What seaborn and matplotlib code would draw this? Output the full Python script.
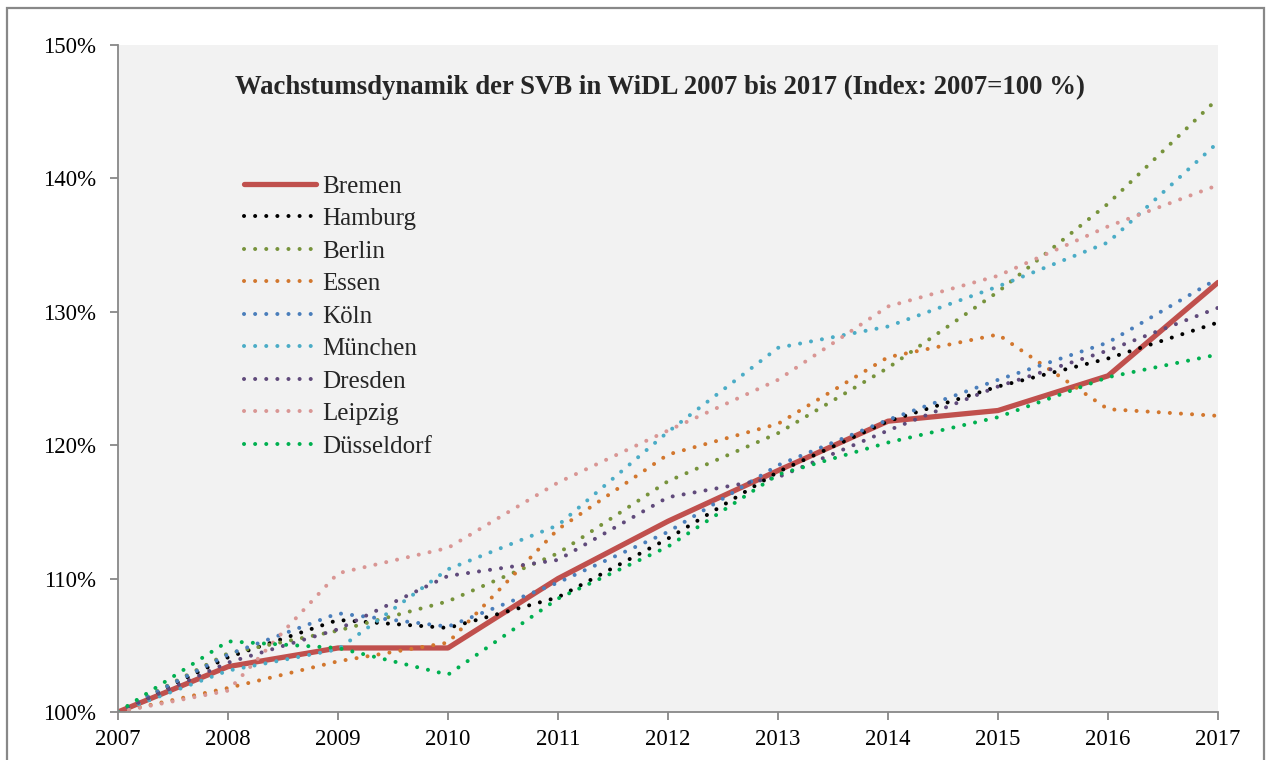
import matplotlib
matplotlib.use("Agg")
import matplotlib.pyplot as plt
import matplotlib.ticker as mticker
from matplotlib.patches import Rectangle
import seaborn as sns
import pandas as pd

# ── Data (Index: 2007 = 100 %) ───────────────────────────────────────────────
YEARS = list(range(2007, 2018))

bremen     = [100, 103.4, 104.8, 104.8, 110.0, 114.3, 118.1, 121.8, 122.6, 125.2, 132.2]
hamburg    = [100, 104.1, 106.9, 106.3, 108.6, 113.0, 118.0, 121.8, 124.4, 126.5, 129.2]
berlin     = [100, 104.4, 106.1, 108.3, 111.9, 117.3, 120.9, 125.8, 131.5, 138.1, 146.0]
essen      = [100, 101.8, 103.8, 105.2, 113.7, 119.3, 121.6, 126.6, 128.3, 122.7, 122.2]
koeln      = [100, 104.3, 107.4, 106.4, 109.7, 113.5, 118.5, 121.9, 124.9, 127.7, 132.5]
muenchen   = [100, 103.1, 104.7, 110.7, 114.0, 121.0, 127.3, 128.9, 131.9, 135.2, 142.7]
dresden    = [100, 103.7, 106.2, 110.2, 111.4, 116.1, 117.6, 121.1, 124.4, 127.1, 130.3]
leipzig    = [100, 101.6, 110.4, 112.3, 117.2, 121.1, 124.9, 130.4, 132.7, 136.4, 139.5]
duesseldorf = [100, 105.3, 104.8, 102.8, 108.5, 112.4, 117.8, 120.2, 122.1, 125.1, 126.8]

CITIES = ["Bremen", "Hamburg", "Berlin", "Essen", "Köln",
          "München", "Dresden", "Leipzig", "Düsseldorf"]
SERIES = [bremen, hamburg, berlin, essen, koeln,
          muenchen, dresden, leipzig, duesseldorf]
COLORS = ["#C0504D", "#000000", "#77933C", "#D2772E", "#4A7EBB",
          "#4BACC6", "#604A7B", "#D99694", "#00B050"]

TITLE = "Wachstumsdynamik der SVB in WiDL 2007 bis 2017 (Index: 2007=100 %)"

# ── Style ─────────────────────────────────────────────────────────────────────
sns.set_theme(style="white")
plt.rcParams["font.family"] = ["Liberation Serif", "DejaVu Serif"]

df = pd.DataFrame({"year": YEARS * len(CITIES),
                   "city": [c for c in CITIES for _ in YEARS],
                   "value": [v for s in SERIES for v in s]})

fig = plt.figure(figsize=(12.66, 7.6), dpi=100)
ax = fig.add_axes([118 / 1266, 48 / 760, 1100 / 1266, 667 / 760])
ax.set_facecolor("#F2F2F2")

for city, color in zip(CITIES, COLORS):
    sub = df[df["city"] == city]
    if city == "Bremen":
        sns.lineplot(data=sub, x="year", y="value", ax=ax, color=color,
                     linewidth=3.8, solid_capstyle="round", label=city)
    else:
        sns.lineplot(data=sub, x="year", y="value", ax=ax, color=color,
                     linewidth=2.9, linestyle=(0, (0.01, 2.75)),
                     dash_capstyle="round", label=city)

# make sure the dotted series get round dots
for line in ax.get_lines():
    line.set_dash_capstyle("round")

ax.set_xlim(2007, 2017)
ax.set_ylim(100, 150)
ax.set_xticks(YEARS)
ax.yaxis.set_major_locator(mticker.MultipleLocator(10))
ax.yaxis.set_major_formatter(mticker.FuncFormatter(lambda v, _: f"{v:.0f}%"))
ax.set_xlabel("")
ax.set_ylabel("")

for side in ["top", "right"]:
    ax.spines[side].set_visible(False)
for side in ["left", "bottom"]:
    ax.spines[side].set_color("#888888")
    ax.spines[side].set_linewidth(1.3)
ax.tick_params(axis="both", which="major", direction="out", length=6,
               width=1.3, color="#888888", labelsize=16.5, labelcolor="black",
               bottom=True, left=True)
ax.tick_params(axis="y", pad=10)
ax.tick_params(axis="x", pad=6)

ax.text(0.493, 0.937, TITLE, transform=ax.transAxes, ha="center", va="center",
        fontsize=19.3, fontweight="bold")

leg = ax.legend(loc="upper left", bbox_to_anchor=(0.105, 0.82), frameon=False,
                fontsize=18, handlelength=2.9, handletextpad=0.25,
                labelspacing=0.40, borderaxespad=0)
for hl in leg.get_lines():
    hl.set_dash_capstyle("round")

# outer frame around the chart
fig.patches.append(Rectangle((7 / 1266, -0.05), 1257 / 1266, 1.05 - 8 / 760,
                             transform=fig.transFigure, fill=False,
                             edgecolor="#888888", linewidth=1.6))

fig.savefig("out.png", dpi=100)
